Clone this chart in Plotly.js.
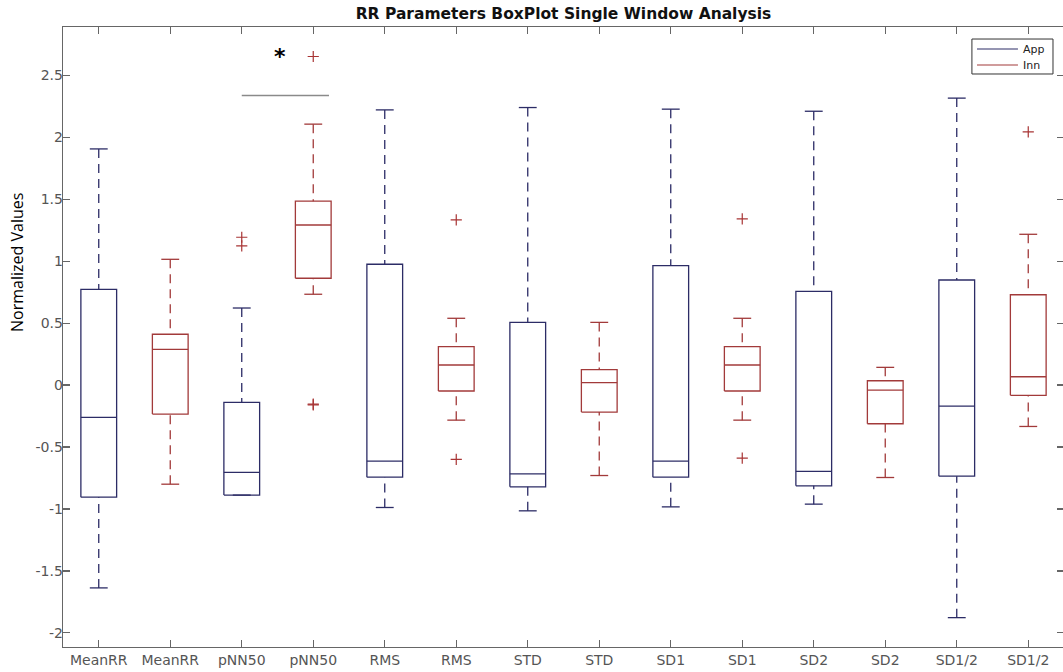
<!DOCTYPE html>
<html>
<head>
<meta charset="utf-8">
<script src="https://cdn.plot.ly/plotly-3.0.1.min.js"></script>
<style>html,body{margin:0;padding:0;overflow:hidden;background:#fff}</style>
</head>
<body>
<div id="chart" style="width:1064px;height:672px"></div>
<script>
const categories = ['MeanRR','MeanRR','pNN50','pNN50','RMS','RMS','STD','STD','SD1','SD1','SD2','SD2','SD1/2','SD1/2'];
const groups = ['App','Inn','App','Inn','App','Inn','App','Inn','App','Inn','App','Inn','App','Inn'];
const lowerWhisker = [-1.637, -0.80, -0.888, 0.733, -0.988, -0.283, -1.015, -0.73, -0.983, -0.283, -0.961, -0.746, -1.877, -0.334];
const q1 = [-0.905, -0.234, -0.888, 0.862, -0.743, -0.048, -0.821, -0.218, -0.743, -0.048, -0.813, -0.312, -0.735, -0.083];
const medians = [-0.261, 0.288, -0.705, 1.292, -0.614, 0.162, -0.716, 0.019, -0.614, 0.162, -0.697, -0.04, -0.17, 0.067];
const q3 = [0.773, 0.41, -0.14, 1.484, 0.975, 0.31, 0.506, 0.124, 0.964, 0.31, 0.757, 0.035, 0.848, 0.729];
const upperWhisker = [1.906, 1.015, 0.622, 2.106, 2.221, 0.539, 2.24, 0.506, 2.227, 0.539, 2.21, 0.143, 2.316, 1.217];
const outliers = [[], [], [1.193, 1.123], [2.652, -0.153, -0.16], [], [1.333, -0.60], [], [], [], [1.341, -0.59], [], [], [], [2.044]];
const yTickVals = [-2, -1.5, -1, -0.5, 0, 0.5, 1, 1.5, 2, 2.5];
const yTickText = ['-2', '-1.5', '-1', '-0.5', '0', '0.5', '1', '1.5', '2', '2.5'];
const legendNames = ['App', 'Inn'];
const sigLineX = [3.0, 4.22];
const sigLineY = [2.337, 2.337];
const sigStar = {x: 3.53, y: 2.65, text: '*'};

const colors = {App: '#2c2c66', Inn: '#a23a3a'};
const outlierColor = '#a83434';
const boxHalf = 0.25, capHalf = 0.125;

const traces = [];
legendNames.forEach(g => {
  const sx = [], sy = [], wx = [], wy = [], ox = [], oy = [];
  categories.forEach((c, i) => {
    if (groups[i] !== g) return;
    const x = i + 1;
    sx.push(x - boxHalf, x + boxHalf, x + boxHalf, x - boxHalf, x - boxHalf, null);
    sy.push(q1[i], q1[i], q3[i], q3[i], q1[i], null);
    sx.push(x - boxHalf, x + boxHalf, null);
    sy.push(medians[i], medians[i], null);
    sx.push(x - capHalf, x + capHalf, null, x - capHalf, x + capHalf, null);
    sy.push(upperWhisker[i], upperWhisker[i], null, lowerWhisker[i], lowerWhisker[i], null);
    wx.push(x, x, null, x, x, null);
    wy.push(upperWhisker[i], q3[i], null, lowerWhisker[i], q1[i], null);
    outliers[i].forEach(v => { ox.push(x); oy.push(v); });
  });
  traces.push({x: sx, y: sy, type: 'scatter', mode: 'lines', name: g, showlegend: false,
    line: {color: colors[g], width: 1.3}, hoverinfo: 'skip'});
  traces.push({x: wx, y: wy, type: 'scatter', mode: 'lines', showlegend: false,
    line: {color: colors[g], width: 1.3, dash: '9px,6px'}, hoverinfo: 'skip'});
  traces.push({x: ox, y: oy, type: 'scatter', mode: 'markers', showlegend: false,
    marker: {symbol: 'cross-thin-open', size: 8, color: outlierColor, line: {color: outlierColor, width: 1.2}}});
});
traces.push({x: sigLineX, y: sigLineY, type: 'scatter', mode: 'lines', showlegend: false,
  line: {color: '#8a8a8a', width: 1.6}, hoverinfo: 'skip'});

// manual legend (paper coordinates)
const legBox = {x0: 0.908, x1: 0.989, y0: 0.9242, y1: 0.9806};
const legRowsY = [0.9645, 0.9387];
const shapes = [{type: 'rect', xref: 'paper', yref: 'paper', x0: legBox.x0, x1: legBox.x1, y0: legBox.y0, y1: legBox.y1,
  line: {color: '#333333', width: 1}, fillcolor: '#ffffff'}];
const annotations = [];
legendNames.forEach((g, k) => {
  shapes.push({type: 'line', xref: 'paper', yref: 'paper', x0: 0.9131, x1: 0.954, y0: legRowsY[k], y1: legRowsY[k],
    line: {color: colors[g], width: 1.2}});
  annotations.push({x: 0.957, y: legRowsY[k], xref: 'paper', yref: 'paper', xanchor: 'left', yanchor: 'middle',
    text: g, showarrow: false, font: {family: 'DejaVu Sans', size: 11, color: '#222222'}});
});
annotations.push({x: sigStar.x, y: sigStar.y, xref: 'x', yref: 'y', text: '<b>' + sigStar.text + '</b>', showarrow: false,
  font: {family: 'DejaVu Sans', size: 22, color: '#000000'}});
annotations.push({x: -0.046, y: 0.621, xref: 'paper', yref: 'paper', xanchor: 'center', yanchor: 'middle',
  text: 'Normalized Values', textangle: -90, showarrow: false, font: {family: 'Open Sans', size: 16, color: '#000000'}});

const tickFont = {family: 'DejaVu Sans', size: 14, color: '#555555'};
const layout = {
  width: 1064, height: 672,
  margin: {l: 63, r: 0, t: 27, b: 25, pad: 0},
  paper_bgcolor: '#ffffff', plot_bgcolor: '#ffffff',
  showlegend: false,
  title: {text: '<b>RR Parameters BoxPlot Single Window Analysis</b>', font: {family: 'DejaVu Sans', size: 15.5, color: '#111111'},
    x: 0.5, xref: 'paper', y: 1, yref: 'paper', yanchor: 'bottom', pad: {b: 8}},
  xaxis: {range: [0.5, 14.5], tickvals: categories.map((c, i) => i + 1), ticktext: categories,
    showgrid: false, zeroline: false, showline: true, linecolor: '#666666', linewidth: 1.3, mirror: 'ticks',
    ticks: 'inside', ticklen: 7, tickcolor: '#666666', tickwidth: 1.2, tickfont: tickFont},
  yaxis: {range: [-2.114, 2.89], tickvals: yTickVals, ticktext: yTickText,
    showgrid: false, zeroline: false, showline: true, linecolor: '#666666', linewidth: 1.3, mirror: 'ticks',
    ticks: 'inside', ticklen: 7, tickcolor: '#666666', tickwidth: 1.2, tickfont: tickFont, ticklabelstandoff: -4},
  shapes: shapes,
  annotations: annotations
};
Plotly.newPlot('chart', traces, layout, {displayModeBar: false, staticPlot: true});
</script>
</body>
</html>
